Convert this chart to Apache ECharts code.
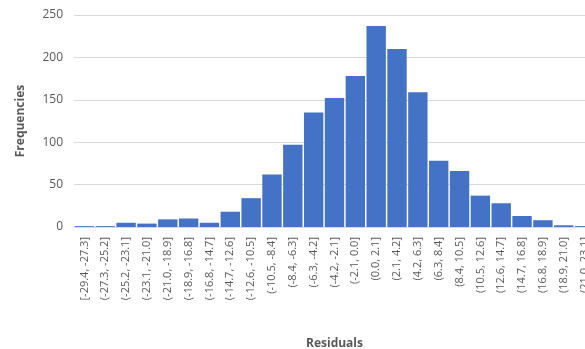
<!DOCTYPE html>
<html><head><meta charset="utf-8">
<script src="https://cdn.jsdelivr.net/npm/echarts@6/dist/echarts.min.js"></script>
<style>html,body{margin:0;padding:0;background:#fff}#c{width:585px;height:349px}</style>
</head><body><div id="c"></div>
<script>
const categories = ["[-29.4, -27.3]","(-27.3, -25.2]","(-25.2, -23.1]","(-23.1, -21.0]","(-21.0, -18.9]","(-18.9, -16.8]","(-16.8, -14.7]","(-14.7, -12.6]","(-12.6, -10.5]","(-10.5, -8.4]","(-8.4, -6.3]","(-6.3, -4.2]","(-4.2, -2.1]","(-2.1, 0.0]","(0.0, 2.1]","(2.1, 4.2]","(4.2, 6.3]","(6.3, 8.4]","(8.4, 10.5]","(10.5, 12.6]","(12.6, 14.7]","(14.7, 16.8]","(16.8, 18.9]","(18.9, 21.0]","(21.0, 23.1]"];
const frequencies = [1,1,5,4,9,10,5,18,34,62,97,135,152,178,237,210,159,78,66,37,28,13,8,2,1];
const yTicks = [0,50,100,150,200,250];

const chart = echarts.init(document.getElementById('c'));
const font = "'Open Sans', 'Noto Sans', sans-serif";
chart.setOption({
  animation: false,
  grid: {left: 74, top: 15, height: 212, width: 521, outerBoundsMode: 'none', containLabel: false},
  xAxis: {
    type: 'category', data: categories,
    axisTick: {show: false},
    axisLine: {lineStyle: {color: '#D9D9D9'}},
    axisLabel: {rotate: 90, interval: 0, color: '#595959', fontSize: 11, fontFamily: font, margin: 10},
    name: 'Residuals', nameLocation: 'middle', nameGap: 111,
    nameTextStyle: {fontWeight: 'bold', color: '#595959', fontSize: 12, fontFamily: font}
  },
  yAxis: {
    type: 'value', min: yTicks[0], max: yTicks[yTicks.length-1], interval: 50,
    axisLine: {show: false}, axisTick: {show: false},
    splitLine: {lineStyle: {color: '#D9D9D9'}},
    axisLabel: {color: '#595959', fontSize: 12, fontFamily: font, margin: 11},
    name: 'Frequencies', nameLocation: 'middle', nameGap: 47, nameRotate: 90,
    nameTextStyle: {fontWeight: 'bold', color: '#595959', fontSize: 12, fontFamily: font}
  },
  series: [{
    type: 'bar', data: frequencies, barCategoryGap: '7%',
    itemStyle: {color: '#4472C4'}
  }]
});
</script></body></html>
